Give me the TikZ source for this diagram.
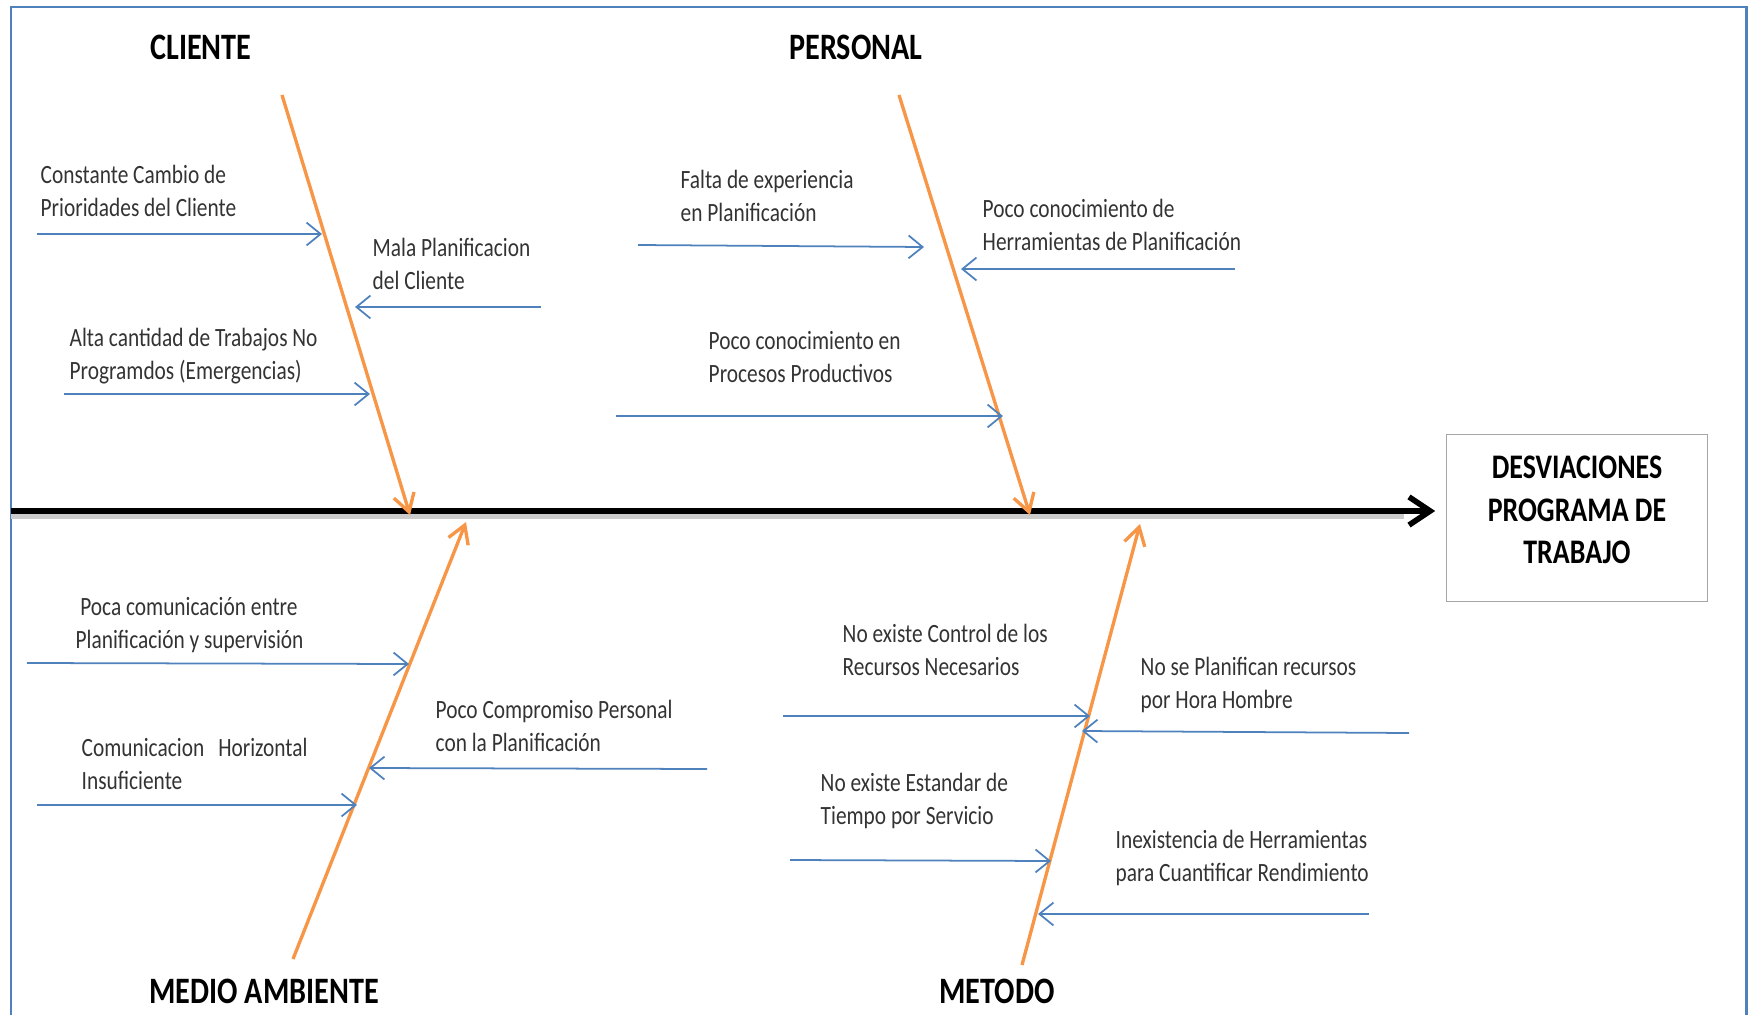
\documentclass[tikz,border=0pt]{standalone}
\usepackage{fontspec}
\setmainfont{Carlito}[FakeStretch=0.81]
\usepackage{xcolor}
\usetikzlibrary{arrows.meta, calc, positioning}

\definecolor{azul}{HTML}{4F81BD}
\definecolor{naranja}{HTML}{F79646}

\begin{document}
\begin{tikzpicture}[x=0.01cm, y=-0.01cm,
    causa/.style={font=\fontsize{7.5}{9.2}\selectfont, text=black!80, align=left, anchor=west, inner sep=0pt},
    titulo/.style={font=\fontsize{10.6}{12}\selectfont\bfseries, inner sep=0pt},
    flecha/.style={azul, line width=0.5pt, -{Straight Barb[length=4pt, width=6.5pt]}},
    espina/.style={naranja, line width=0.95pt, -{Straight Barb[length=5pt, width=6pt]}}]

    \useasboundingbox (0,0) rectangle (1748,1015);

    % =================================================================
    % 1. MARCO Y COORDENADAS BASICAS
    % =================================================================
    \def\ye{511}    % altura de la espina central

    \draw[azul, line width=0.85pt] (11,1015) -- (11,7) -- (1746,7) -- (1746,1015);

    \coordinate (spineL) at (11,\ye);     % inicio de la espina central
    \coordinate (cT) at (282,95);         % espina CLIENTE
    \coordinate (cB) at (410,515);
    \coordinate (pT) at (899,95);         % espina PERSONAL
    \coordinate (pB) at (1030,515);
    \coordinate (mB) at (293,959);        % espina MEDIO AMBIENTE
    \coordinate (mT) at (466,522);
    \coordinate (tB) at (1022,965);       % espina METODO
    \coordinate (tT) at (1140,524);

    % =================================================================
    % 2. EFECTO Y ESPINA CENTRAL
    % =================================================================
    \node[draw=black!35, line width=0.4pt, minimum width=2.61cm, minimum height=1.67cm]
          (efecto) at (1577,518) {};
    \node[align=center, inner sep=0pt, font=\fontsize{9.8}{12}\selectfont\bfseries]
          (efectoTxt) at (1577,510) {DESVIACIONES\\PROGRAMA DE\\TRABAJO};

    % sombra suave y flecha principal
    \draw[black!20, line width=2pt, shorten >=12pt] ($(spineL)+(0,4)$) -- ($(spineL -| efecto.west)+(0,4)$);
    \draw[line width=1.6pt, -{Straight Barb[length=6pt, width=8pt]}, shorten >=3pt]
        (spineL) -- (spineL -| efecto.west);

    % =================================================================
    % 3. CATEGORIAS (ESPINAS NARANJAS)
    % =================================================================
    \node[titulo] (cliente)  at (201,47)  {CLIENTE};
    \node[titulo] (personal) at (856,47)  {PERSONAL};
    \node[titulo] (medio)    at (264,991) {MEDIO AMBIENTE};
    \node[titulo] (metodo)   at (997,991) {METODO};

    \draw[espina] (cT) -- (cB);
    \draw[espina] (pT) -- (pB);
    \draw[espina] (mB) -- (mT);
    \draw[espina] (tB) -- (tT);

    % =================================================================
    % 4. CAUSAS (FLECHAS AZULES)
    % =================================================================
    % CLIENTE
    \node[causa] (c1) at (40,191) {Constante Cambio de\\Prioridades del Cliente};
    \coordinate (c1s) at (37,234);  \coordinate (c1e) at (322,234);
    \draw[flecha] (c1s) -- (c1e);

    \node[causa] (c2) at (372,264) {Mala Planificacion\\del Cliente};
    \coordinate (c2s) at (541,307); \coordinate (c2e) at (355,307);
    \draw[flecha] (c2s) -- (c2e);

    \node[causa] (c3) at (69,356) {Alta cantidad de Trabajos No\\Programdos (Emergencias)};
    \coordinate (c3s) at (64,394);  \coordinate (c3e) at (370,394);
    \draw[flecha] (c3s) -- (c3e);

    % PERSONAL
    \node[causa] (p1) at (680,196) {Falta de experiencia\\en Planificación};
    \coordinate (p1s) at (638,245); \coordinate (p1e) at (924,247);
    \draw[flecha] (p1s) -- (p1e);

    \node[causa] (p2) at (982,225) {Poco conocimiento de\\Herramientas de Planificación};
    \coordinate (p2s) at (1235,269); \coordinate (p2e) at (961,269);
    \draw[flecha] (p2s) -- (p2e);

    \node[causa] (p3) at (708,357) {Poco conocimiento en\\Procesos Productivos};
    \coordinate (p3s) at (616,416); \coordinate (p3e) at (1003,416);
    \draw[flecha] (p3s) -- (p3e);

    % MEDIO AMBIENTE
    \node[causa] (m1) at (75,625) {\hspace{1.3pt}Poca comunicación entre\\Planificación y supervisión};
    \coordinate (m1s) at (27,663);  \coordinate (m1e) at (409,664);
    \draw[flecha] (m1s) -- (m1e);

    \node[causa] (m2) at (435,726) {Poco Compromiso Personal\\con la Planificación};
    \coordinate (m2s) at (707,769); \coordinate (m2e) at (369,768);
    \draw[flecha] (m2s) -- (m2e);

    \node[causa] (m3) at (81,764) {Comunicacion\hspace{4pt}Horizontal\\Insuficiente};
    \coordinate (m3s) at (37,805);  \coordinate (m3e) at (357,805);
    \draw[flecha] (m3s) -- (m3e);

    % METODO
    \node[causa] (t1) at (842,650) {No existe Control de los\\Recursos Necesarios};
    \coordinate (t1s) at (783,716); \coordinate (t1e) at (1090,716);
    \draw[flecha] (t1s) -- (t1e);

    \node[causa] (t2) at (1140,685) {No se Planifican recursos\\por Hora Hombre};
    \coordinate (t2s) at (1409,733); \coordinate (t2e) at (1082,731);
    \draw[flecha] (t2s) -- (t2e);

    \node[causa] (t3) at (820,801) {No existe Estandar de\\Tiempo por Servicio};
    \coordinate (t3s) at (790,860); \coordinate (t3e) at (1051,861);
    \draw[flecha] (t3s) -- (t3e);

    \node[causa] (t4) at (1115,858) {Inexistencia de Herramientas\\para Cuantificar Rendimiento};
    \coordinate (t4s) at (1369,914); \coordinate (t4e) at (1038,914);
    \draw[flecha] (t4s) -- (t4e);

\end{tikzpicture}
\end{document}
